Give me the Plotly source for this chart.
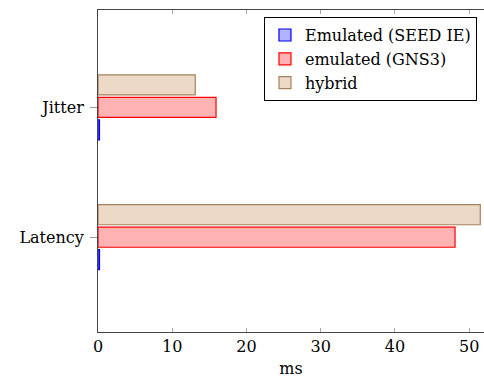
import plotly.graph_objects as go

categories = ["Latency", "Jitter"]
seed_ie = [0.2, 0.2]
gns3 = [48.1, 15.9]
hybrid = [51.5, 13.1]
x_ticks = [0, 10, 20, 30, 40, 50]

FONT = "DejaVu Serif"
FS = 16

fig = go.Figure()
fig.add_trace(go.Bar(name="Emulated (SEED IE)", y=categories, x=seed_ie, orientation="h",
                     marker=dict(color="rgba(0,0,255,0.3)", line=dict(color="blue", width=1.2))))
fig.add_trace(go.Bar(name="emulated (GNS3)", y=categories, x=gns3, orientation="h",
                     marker=dict(color="#ffb3b3", line=dict(color="red", width=1.2))))
fig.add_trace(go.Bar(name="hybrid", y=categories, x=hybrid, orientation="h",
                     marker=dict(color="#ecd9c6", line=dict(color="#a5825f", width=1.2))))

fig.update_layout(
    width=484, height=380,
    margin=dict(l=98, r=0, t=10, b=48),
    plot_bgcolor="white", paper_bgcolor="white",
    barmode="group", bargap=0.48, bargroupgap=0.11,
    font=dict(family=FONT, size=FS, color="black"),
    legend=dict(x=0.43, y=0.978, xanchor="left", yanchor="top",
                bgcolor="white", bordercolor="black", borderwidth=1,
                traceorder="normal", font=dict(family=FONT, size=FS),
                tracegroupgap=0, itemwidth=30),
    xaxis=dict(range=[0, 52.0], tickvals=x_ticks, ticks="inside", ticklen=4,
               tickcolor="#aaaaaa", showline=True, linecolor="#444444", linewidth=1,
               mirror="ticks", showgrid=False, zeroline=False,
               tickfont=dict(family=FONT, size=FS),
               title=dict(text="ms", standoff=7, font=dict(family=FONT, size=FS))),
    yaxis=dict(range=[-0.73, 1.75], ticks="outside", ticklen=7, tickcolor="#999999",
               showline=True, linecolor="#444444", linewidth=1, showgrid=False,
               zeroline=False, tickfont=dict(family=FONT, size=FS), ticklabelstandoff=3),
)

fig.write_html("out.html", config={"displayModeBar": False},
               post_script="document.body.style.margin='0';document.body.style.overflow='hidden';")
